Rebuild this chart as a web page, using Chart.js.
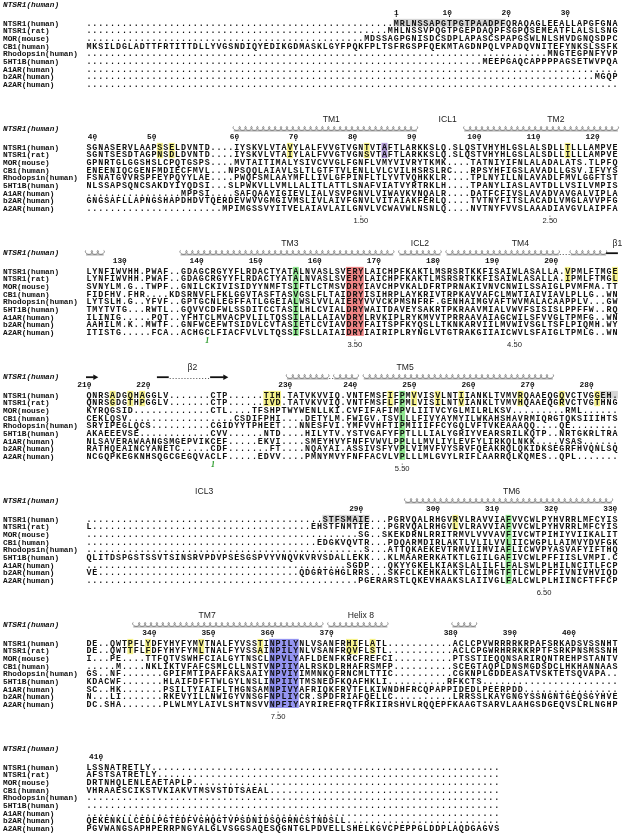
<!DOCTYPE html>
<html>
<head>
<meta charset="utf-8">
<script src="https://cdn.jsdelivr.net/npm/chart.js@4.4.1/dist/chart.umd.min.js"></script>
<style>
  html, body { margin: 0; padding: 0; background: #fff; }
  #wrap { width: 625px; height: 835px; }
</style>
</head>
<body>
<div id="wrap"><canvas id="aln"></canvas></div>
<script>
(function () {
  'use strict';

  // ── Alignment data (a number inside a row = that many gap dots) ──────
  var names = ['NTSR1(human)', 'NTSR1(rat)', 'MOR(mouse)', 'CB1(human)', 'Rhodopsin(human)',
               '5HT1B(human)', 'A1AR(human)', 'b2AR(human)', 'A2AR(human)'];
  var reference = 'NTSR1(human)';

  var block1 = [
    '52MRLNSSAPGTPGTPAADPFQRAQAGLEEALLAPGFGNA',
    '51MHLNSSVPQGTPGEPDAQPFSGPQSEMEATFLALSLSNG',
    '47MDSSAGPGNISDCSDPLAPASCSPAPGSWLNLSHVDGNQSDPC',
    'MKSILDGLADTTFRTITTDLLYVGSNDIQYEDIKGDMASKLGYFPQKFPLTSFRGSPFQEKMTAGDNPQLVPADQVNITEFYNKSLSSFK',
    '78MNGTEGPNFYVP',
    '67MEEPGAQCAPPPPAGSETWVPQA',
    '90',
    '86MGQP',
    '90'
  ];
  var block2 = [
    'SGNASERVLAAPSSELDVNTD4IYSKVLVTAVYLALFVVGTVGNTVTAFTLARKKSLQ1SLQSTVHYHLGSLALSDLLTLLLAMPVE',
    'SGNTSESDTAGPNSDLDVNTD4IYSKVLVTAIYLALFVVGTVGNSVTAFTLARKKSLQ1SLQSTVHYHLGSLALSDLLILLLAMPVE',
    'GPNRTGLGGSHSLCPQTGSPS4MVTAITIMALYSIVCVVGLFGNFLVMYVIVRYTKMK4TATNIYIFNLALADALATS1TLPFQ',
    'ENEENIQCGENFMDIECFMVL3NPSQQLAIAVLSLTLGTFTVLENLLVLCVILHSRSLRC3RPSYHFIGSLAVADLLGSV1IFVYS',
    'FSNATGVVRSPFEYPQYYLAE4PWQFSMLAAYMFLLIVLGFPINFLTLYVTVQHKKLR4TPLNYILLNLAVADLFMVLGGFTST',
    'NLSSAPSQNCSAKDYIYQDSI3SLPWKVLLVMLLALITLATTLSNAFVIATVYRTRKLH4TPANYLIASLAVTDLLVSILVMPIS',
    '16MPPSI4SAFQAAYIGIEVLIALVSVPGNVLVIWAVKVNQALR4DATFCFIVSLAVADVAVGALVIPLA',
    'GNGSAFLLAPNGSHAPDHDVTQERDEVWVVGMGIVMSLIVLAIVFGNVLVITAIAKFERLQ4TVTNYFITSLACADLVMGLAVVPFG',
    '23MPIMGSSVYITVELAIAVLAILGNVLVCWAVWLNSNLQ4NVTNYFVVSLAAADIAVGVLAIPFA'
  ];
  var block3 = [
    'LYNFIWVHH1PWAF2GDAGCRGYYFLRDACTYATALNVASLSVERYLAICHPFKAKTLMSRSRTKKFISAIWLASALLA1VPMLFTMGE',
    'LYNFIWVHH1PWAF2GDAGCRGYYFLRDACTYATALNVASLSVERYLAICHPFKAKTLMSRSRTKKFISAIWLASALLA1IPMLFTMGL',
    'SVNYLM1G2TWPF2GNILCKIVISIDYYNMFTSIFTLCTMSVDRYIAVCHPVKALDFRTPRNAKIVNVCNWILSSAIGLPVMFMA1TT',
    'FIDFHV1FHR4KDSRNVFLFKLGGVTASFTASVGSLFLTAIDRYISIHRPLAYKRIVTRPKAVVAFCLMWTIAIVIAVLPLLG2WN',
    'LYTSLH1G2YFVF2GPTGCNLEGFFATLGGEIALWSLVVLAIERYVVVCKPMSNFRF1GENHAIMGVAFTWVMALACAAPPLV3GW',
    'TMYTVTG3RWTL2GQVVCDFWLSSDITCCTASILHLCVIALDRYWAITDAVEYSAKRTPKRAAVMIALVWVFSISISLPPFFW2RQ',
    'ILINIG5PQT2YFHTCLMVACPVLILTQSSILALLAIAVDRYLRVKIPLRYKMVVTPRRAAVAIAGCWILSFVVGLTPMFG2WN',
    'AAHILM1K2MWTF2GNFWCEFWTSIDVLCVTASIETLCVIAVDRYFAITSPFKYQSLLTKNKARVIILMVWIVSGLTSFLPIQMH1WY',
    'ITISTG5FCA2ACHGCLFIACFVLVLTQSSIFSLLAIAIDRYIAIRIPLRYNGLVTGTRAKGIIAICWVLSFAIGLTPMLG2WN'
  ];
  var block4 = [
    'QNRSADGQHAGGLV7CTP6TIH1TATVKVVIQ1VNTFMSFIFPMVVISVLNTIIANKLTVMVRQAAEQGQVCTVGGEH1',
    'QNRSGDGTHPGGLV7CTP6IVD1TATVKVVIQ1VNTFMSFLFPMLVISILNTVIANKLTVMVHQAAEQGRVCTVGTHNG',
    'KYRQGSID13CTL4TFSHPTWYWENLLKI1CVFIFAFIMPVLIITVCYGLMILRLKSV9RML6',
    'CEKLQSV18CSDIFPHI4DETYLM1FWIGV1TSVLLLFIVYAYMYILWKAHSHAVRMIQRGTQKSIIIHTS',
    'SRYIPEGLQCS10CGIDYYTPHEET3NNESFVI1YMFVVHFTIPMIIIFFCYGQLVFTVKEAAAQQ4QE8',
    'AKAEEEVSE12CVV6NTD4HILYTV1YSTVGAFYFPTLLLIALYGRIYVEARSRILKQTP2NRTGKRLTRA',
    'NLSAVERAWAANGSMGEPVIKCEF5EKVI4SMEYHVYFNFFVWVLPPLLLMVLIYLEVFYLIRKQLNKK4VSAS6',
    'RATHQEAINCYANETC5CDF7FT4NQAYAI1ASSIVSFYVPLVIMVFVYSRVFQEAKRQLQKIDKSEGRFHVQNLSQ',
    'NCGQPKEGKNHSQGCGEGQVACLF5EDVV4PMNYMVYFNFFACVLVPLLLMLGVYLRIFLAARRQLKQMES2QPL7'
  ];
  var block5 = [
    '40STFSMAIE3PGRVQALRHGVRVLRAVVIAFVVCWLPYHVRRLMFCYIS',
    'L37EHSTFNMTIE3PGRVQALRHGVLVLRAVVIAFVVCWLPYHVRRLMFCYIS',
    '46SG2SKEKDRNLRRITRMVLVVVAVFIVCWTPIHIYVIIKALIT',
    '39EDGKVQVTR3PDQARMDIRLAKTLVLILVVLIICWGPLLAIMVYDVFGK',
    '47S3ATTQKAEKEVTRMVIIMVIAFLICWVPYASVAFYIFTHQ',
    'QLITDSPGSTSSVTSINSRVPDVPSESGSPVYVNQVKVRVSDALLEKK3KLMAARERKATKTLGIILGAFIVCWLPFFIISLVMPI1C',
    '44SGDP3QKYYGKELKIAKSLALILFLFALSWLPLHILNCITLFCP',
    'VE34QDGRTGHGLRRS3SKFCLKEHKALKTLGIIMGTFTLCWLPFFIVNIVHVIQD',
    '46PGERARSTLQKEVHAAKSLAIIVGLFALCWLPLHIINCFTFFCP'
  ];
  var block6 = [
    'DE2QWTPFLYDFYHYFYMVTNALFYVSSTINPILYNLVSANFRHIFLATL11ACLCPVWRRRRKRPAFSRKADSVSSNHT',
    'DE2QWTTFLFDFYHYFYMLTNALFYVSSAINPILYNLVSANFRQVFLSTL11ACLCPGWRHRRKKRPTFSRKPNSMSSNH',
    'I3PE4TTFQTVSWHFCIALGYTNSCLNPVLYAFLDENFKRCFREFCI10PTSSTIEQQNSARIRQNTREHPSTANTV',
    '5M4NKLIKTVFAFCSMLCLLNSTVNPIIYALRSKDLRHAFRSMFP10SCEGTAQPLDNSMGDSDCLHKHANNAAS',
    'GS2NF7GPIFMTIPAFFAKSAAIYNPVIYIMMNKQFRNCMLTTIC10CGKNPLGDDEASATVSKTETSQVAPA2',
    'KDACWF7HLAIFDFFTWLGYLNSLINPIIYTMSNEDFKQAFHKLI10RFKCTS23',
    'SC2HK7PSILTYIAIFLTHGNSAMNPIVYAFRIQKFRVTFLKIWNDHFRCQPAPPIDEDLPEERPDD16',
    'N3LI7RKEVYILLNWIGYVNSGFNPLIYCR1SPDFRIAFQELLC10LRRSSLKAYGNGYSSNGNTGEQSGYHVE',
    'DC1SHA7PLWLMYLAIVLSHTNSVVNPFIYAYRIREFRQTFRKIIRSHVLRQQEPFKAAGTSARVLAAHGSDGEQVSLRLNGHP'
  ];
  var block7 = [
    'LSSNATRETLY59',
    'AFSTSATRETLY58',
    'DRTNHQLENLEAETAPLP52',
    'VHRAAESCIKSTVKIAKVTMSVSTDTSAEAL39',
    '70',
    '70',
    '70',
    'QEKENKLLCEDLPGTEDFVGHQGTVPSDNIDSQGRNCSTNDSLL26',
    'PGVWANGSAPHPERRPNGYALGLVSGGSAQESQGNTGLPDVELLSHELKGVCPEPPGLDDPLAQDGAGVS'
  ];
  var blocks = [block1, block2, block3, block4, block5, block6, block7];

  // residue numbering of NTSR1(human): [column, label]
  var rulers = [
    [[52, '1'], [61, '10'], [71, '20'], [81, '30']],
    [[1, '40'], [11, '50'], [25, '60'], [35, '70'], [45, '80'], [55, '90'], [66, '100'], [76, '110'], [86, '120']],
    [[6, '130'], [19, '140'], [29, '150'], [39, '160'], [49, '170'], [59, '180'], [69, '190'], [79, '200']],
    [[0, '210'], [10, '220'], [34, '230'], [45, '240'], [55, '250'], [65, '260'], [75, '270'], [85, '280']],
    [[46, '290'], [59, '300'], [69, '310'], [79, '320'], [89, '330']],
    [[11, '340'], [21, '350'], [31, '360'], [41, '370'], [62, '380'], [72, '390'], [82, '400']],
    [[2, '410']]
  ];

  // shaded cells: [block, firstCol, lastCol, firstRow, lastRow, kind]
  var shades = [
    [0, 52, 70, 0, 0, 'unres'],
    [1, 12, 12, 0, 1, 'diff'], [1, 14, 14, 0, 1, 'diff'], [1, 34, 34, 0, 1, 'diff'],
    [1, 47, 47, 0, 1, 'diff'], [1, 50, 50, 0, 1, 'site'], [1, 81, 81, 0, 1, 'diff'],
    [2, 35, 35, 0, 8, 'bw'], [2, 44, 46, 0, 8, 'dry'], [2, 81, 81, 0, 1, 'diff'], [2, 89, 89, 0, 1, 'diff'],
    [3, 4, 4, 0, 1, 'diff'], [3, 7, 7, 0, 1, 'diff'], [3, 9, 9, 0, 1, 'diff'], [3, 30, 32, 0, 1, 'diff'],
    [3, 51, 51, 0, 1, 'diff'], [3, 53, 53, 0, 8, 'bw'], [3, 55, 55, 0, 1, 'diff'], [3, 59, 59, 0, 1, 'diff'],
    [3, 63, 63, 0, 1, 'diff'], [3, 73, 73, 0, 1, 'diff'], [3, 80, 80, 0, 1, 'diff'], [3, 86, 86, 0, 1, 'diff'],
    [3, 87, 89, 0, 0, 'unres'],
    [4, 40, 47, 0, 0, 'unres'], [4, 62, 62, 0, 1, 'diff'], [4, 71, 71, 0, 8, 'bw'],
    [5, 7, 7, 0, 1, 'diff'], [5, 10, 10, 0, 1, 'diff'], [5, 19, 19, 0, 1, 'diff'], [5, 29, 29, 0, 1, 'diff'],
    [5, 31, 35, 0, 8, 'npxxy'], [5, 44, 45, 0, 1, 'diff'], [5, 48, 48, 0, 1, 'diff']
  ];

  // secondary structure of NTSR1: [block, firstCol, lastCol]
  var helices = [
    [1, 25, 55], [1, 64, 89],
    [2, 0, 2], [2, 16, 51], [2, 53, 59], [2, 61, 79], [2, 82, 87],
    [3, 34, 40], [3, 42, 45], [3, 47, 78],
    [4, 54, 88],
    [5, 8, 35], [5, 36, 39], [5, 41, 50], [5, 62, 65]
  ];
  var ssGaps = [[2, 80, 81], [3, 14, 20], [3, 41, 41]];
  var strands = [[2, 88, 89, false], [3, 0, 1, true], [3, 12, 13, false], [3, 21, 23, true]];

  var regions = [
    [1, 41, 'TM1'], [1, 60.7, 'ICL1'], [1, 79, 'TM2'],
    [2, 34, 'TM3'], [2, 56, 'ICL2'], [2, 73, 'TM4'], [2, 89.4, '\u03b21'],
    [3, 17.5, '\u03b22'], [3, 53.5, 'TM5'],
    [4, 19.5, 'ICL3'], [4, 71.5, 'TM6'],
    [5, 20, 'TM7'], [5, 46, 'Helix 8']
  ];
  var bwLabels = [
    [1, 46, '1.50'], [1, 78, '2.50'], [2, 45, '3.50'], [2, 72, '4.50'],
    [3, 53, '5.50'], [4, 77, '6.50'], [5, 32, '7.50']
  ];
  var bridges = [[2, 20, '1'], [3, 21, '1']];

  // ── Layout ───────────────────────────────────────────────────────────
  var W = 625, H = 835;
  var LEFT = 86, CW = 5.91;          // first residue column, column pitch
  var FIRST = 22.7, STEP = 124, ROW = 7.67;
  var mono = '"Liberation Mono", "DejaVu Sans Mono", monospace';
  var sans = '"Liberation Sans", Arial, sans-serif';
  var shadeColor = {
    diff: '#f6f28a', bw: '#8fe58f', dry: '#ef8686',
    npxxy: '#9494f1', site: '#b29bd8', unres: '#d5d5d5'
  };

  function expand(s) {
    return s.replace(/\d+/g, function (n) { return new Array(+n + 1).join('.'); });
  }
  var rows = blocks.map(function (b) { return b.map(expand); });

  var espript = {
    id: 'espript',
    afterDraw: function (chart) {
      var ctx = chart.ctx, xs = chart.scales.x, ys = chart.scales.y;
      function colX(c) { return xs.getPixelForValue(c); }
      function midX(c) { return xs.getPixelForValue(c + 0.5); }
      function yAt(b, off) { return ys.getPixelForValue(FIRST + b * STEP + off); }
      var area = chart.chartArea;
      var labelX = area.left + 3;
      var lastRow = 8 * ROW;

      ctx.save();

      // shading under residues
      shades.forEach(function (s) {
        var y0 = yAt(s[0], s[3] * ROW - ROW / 2), y1 = yAt(s[0], s[4] * ROW + ROW / 2);
        ctx.fillStyle = shadeColor[s[5]];
        ctx.fillRect(colX(s[1]), y0, colX(s[2] + 1) - colX(s[1]), y1 - y0);
      });

      rows.forEach(function (blk, b) {
        // header
        ctx.fillStyle = '#111';
        ctx.textAlign = 'left';
        ctx.textBaseline = 'alphabetic';
        ctx.font = 'italic bold 7.8px ' + mono;
        ctx.fillText(reference, labelX, yAt(b, -18) + 2.7);

        // ruler
        ctx.font = 'bold 7.8px ' + mono;
        ctx.textAlign = 'right';
        rulers[b].forEach(function (r) {
          var cx = midX(r[0]);
          ctx.fillText(r[1], cx + 2.35, yAt(b, -10.5) + 2.7);
          ctx.fillRect(cx - 0.5, yAt(b, -7.3), 1, 1.6);
        });

        // sequence names and residues
        blk.forEach(function (seq, r) {
          var y = yAt(b, r * ROW) + 2.9;
          ctx.textAlign = 'left';
          ctx.font = 'bold 7.8px ' + mono;
          ctx.fillText(names[r], labelX, y);
          ctx.textAlign = 'center';
          ctx.font = 'bold 8.4px ' + mono;
          for (var c = 0; c < seq.length; c++) {
            ctx.fillText(seq[c], midX(c), y);
          }
        });
      });

      // helices as coils
      ctx.strokeStyle = '#444';
      ctx.lineWidth = 0.6;
      helices.forEach(function (h) {
        var yc = yAt(h[0], -18.3), x0 = colX(h[1]), x1 = colX(h[2] + 1);
        var n = h[2] - h[1] + 1, rad = 1.9, pitch = (x1 - x0) / n;
        ctx.beginPath();
        for (var i = 0; i <= n * 24; i++) {
          var t = (i / 24) * 2 * Math.PI;
          var x = x0 + pitch / 2 + pitch * t / (2 * Math.PI) - rad * Math.sin(t) - pitch / 2;
          var y = yc - rad * Math.cos(t);
          if (i === 0) ctx.moveTo(x, y); else ctx.lineTo(x, y);
        }
        ctx.stroke();
        ctx.beginPath();
        ctx.moveTo(x0, yc + rad + 0.6);
        ctx.lineTo(x1, yc + rad + 0.6);
        ctx.stroke();
      });

      // dotted (disordered) parts of the structure line
      ctx.fillStyle = '#222';
      ssGaps.forEach(function (g) {
        var y = yAt(g[0], -16.6);
        for (var x = colX(g[1]) + 1; x < colX(g[2] + 1) - 0.5; x += CW / 2) {
          ctx.fillRect(x, y, 0.9, 0.9);
        }
      });

      // strands
      ctx.strokeStyle = '#111';
      ctx.fillStyle = '#111';
      strands.forEach(function (s) {
        var y = yAt(s[0], -17.5), x0 = colX(s[1]), x1 = colX(s[2] + 1);
        ctx.lineWidth = 1.8;
        ctx.beginPath();
        ctx.moveTo(x0, y);
        ctx.lineTo(s[3] ? x1 - 4 : x1, y);
        ctx.stroke();
        if (s[3]) {
          ctx.beginPath();
          ctx.moveTo(x1 - 4.5, y - 2.8);
          ctx.lineTo(x1 + 0.5, y);
          ctx.lineTo(x1 - 4.5, y + 2.8);
          ctx.closePath();
          ctx.fill();
        }
      });

      // region labels (TM1, ICL1 ...)
      ctx.fillStyle = '#222';
      ctx.textAlign = 'center';
      ctx.font = '8.6px ' + sans;
      regions.forEach(function (l) {
        ctx.fillText(l[2], midX(l[1]), yAt(l[0], -28) + 3);
      });

      // Ballesteros-Weinstein positions
      ctx.font = '7.6px ' + sans;
      bwLabels.forEach(function (l) {
        var cx = midX(l[1]);
        ctx.fillText(l[2], cx, yAt(l[0], lastRow + 12.5) + 2.7);
        ctx.fillRect(cx - 0.4, yAt(l[0], lastRow + 7.6), 0.9, 0.9);
      });

      // disulfide bridge markers
      ctx.fillStyle = '#2b9b2b';
      ctx.font = 'italic bold 8px "Liberation Serif", serif';
      bridges.forEach(function (l) {
        ctx.fillText(l[2], midX(l[1]), yAt(l[0], lastRow + 8.6) + 2.7);
      });

      ctx.restore();
    }
  };

  new Chart(document.getElementById('aln').getContext('2d'), {
    type: 'scatter',
    data: { datasets: [] },
    options: {
      responsive: true,
      maintainAspectRatio: false,
      animation: false,
      layout: { padding: 0 },
      plugins: { legend: { display: false }, tooltip: { enabled: false } },
      scales: {
        x: { type: 'linear', display: false, min: -LEFT / CW, max: (W - LEFT) / CW },
        y: { type: 'linear', display: false, reverse: true, min: 0, max: H }
      }
    },
    plugins: [espript]
  });
})();
</script>
</body>
</html>
